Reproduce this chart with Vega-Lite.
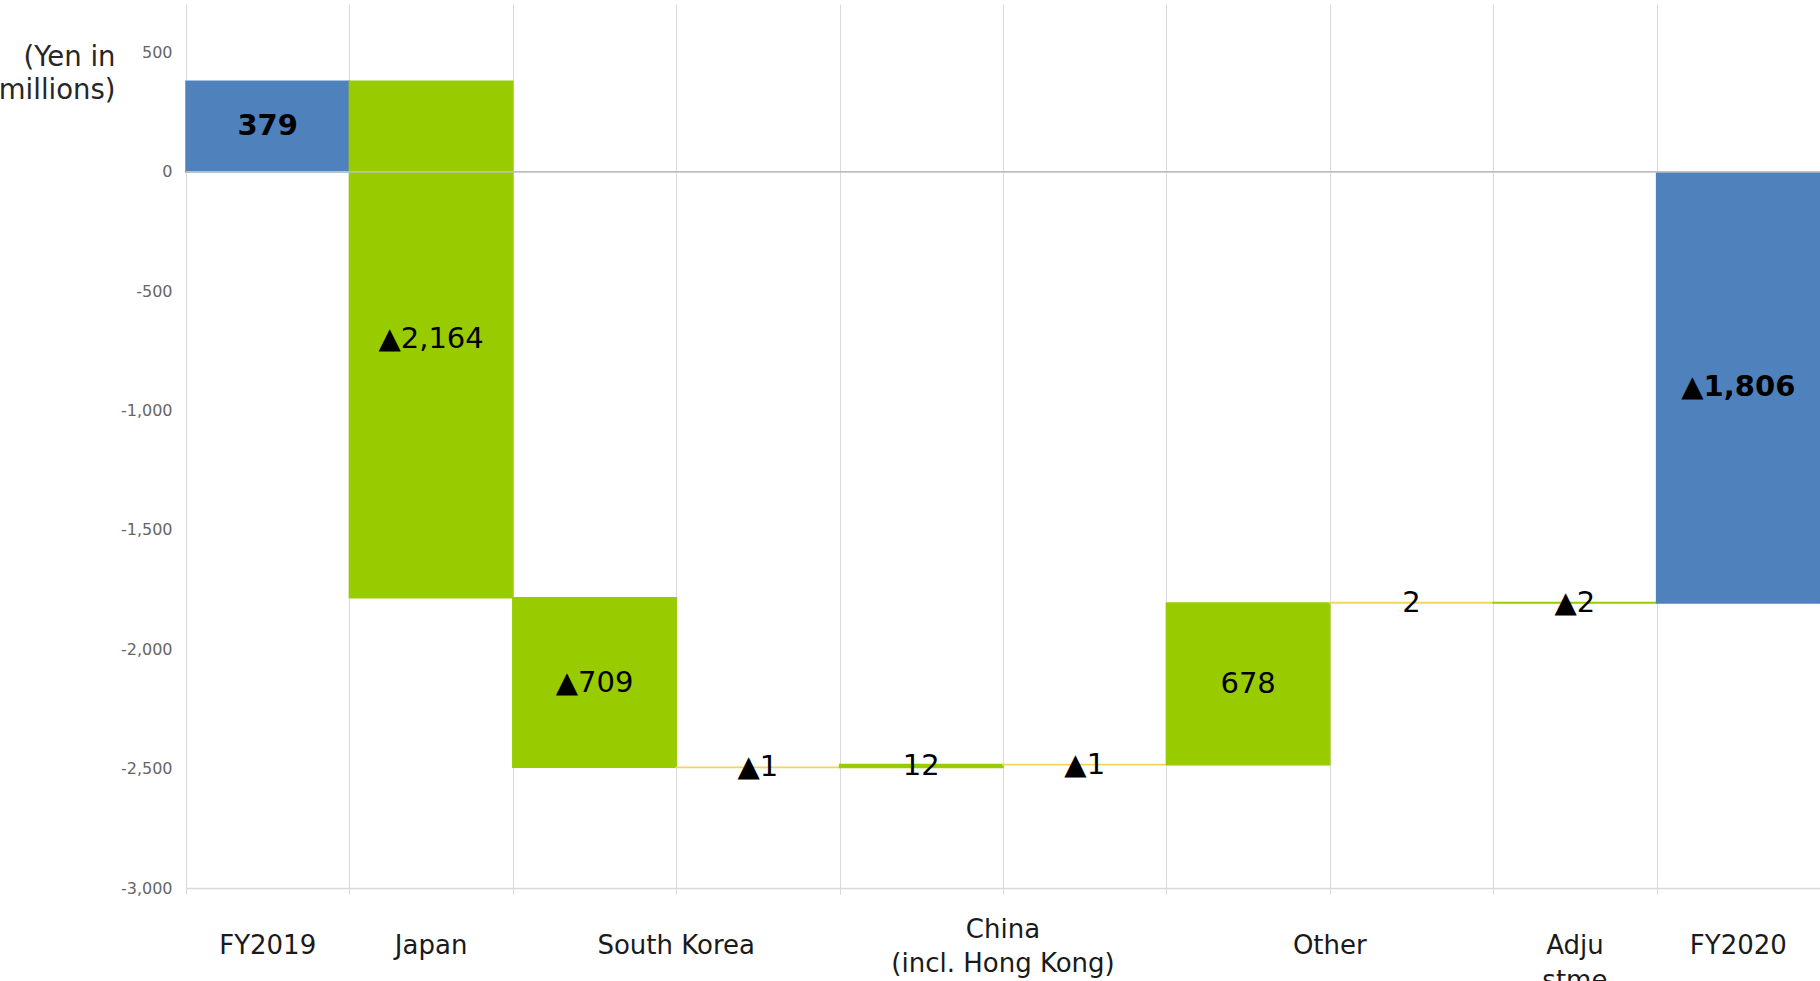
{
  "$schema": "https://vega.github.io/schema/vega-lite/v6.json",
  "autosize": "none",
  "width": 1634,
  "height": 884,
  "padding": {"left": 186, "top": 4, "right": 0, "bottom": 93},
  "background": "white",
  "config": {
    "view": {"stroke": null},
    "font": "DejaVu Sans",
    "style": {"guide-title": {"lineBreak": "\n"}}
  },
  "datasets": {
    "steps": [
      {"i": 0, "item": "FY2019", "start": 0, "end": 379, "kind": "total", "label": "379"},
      {"i": 1, "item": "Japan", "start": 379, "end": -1785, "kind": "main", "label": "▲2,164"},
      {"i": 2, "item": "South Korea (1)", "start": -1785, "end": -2494, "kind": "main", "label": "▲709"},
      {"i": 3, "item": "South Korea (2)", "start": -2494, "end": -2495, "kind": "sub", "label": "▲1"},
      {"i": 4, "item": "China (1)", "start": -2495, "end": -2483, "kind": "main", "label": "12"},
      {"i": 5, "item": "China (2)", "start": -2483, "end": -2484, "kind": "sub", "label": "▲1"},
      {"i": 6, "item": "Other (1)", "start": -2484, "end": -1806, "kind": "main", "label": "678"},
      {"i": 7, "item": "Other (2)", "start": -1806, "end": -1804, "kind": "sub", "label": "2"},
      {"i": 8, "item": "Adjustment", "start": -1804, "end": -1806, "kind": "main", "label": "▲2"},
      {"i": 9, "item": "FY2020", "start": 0, "end": -1806, "kind": "total", "label": "▲1,806"}
    ],
    "cats": [
      {"pos": 0.5, "name": "FY2019", "lines": 1},
      {"pos": 1.5, "name": "Japan", "lines": 1},
      {"pos": 3, "name": "South Korea", "lines": 1},
      {"pos": 5, "name": "China\n(incl. Hong Kong)", "lines": 2},
      {"pos": 7, "name": "Other", "lines": 1},
      {"pos": 8.5, "name": "Adju\nstme\nnt", "lines": 3},
      {"pos": 9.5, "name": "FY2020", "lines": 1}
    ]
  },
  "layer": [
    {
      "data": {"name": "steps"},
      "transform": [{"calculate": "datum.i + 1", "as": "i1"}],
      "mark": {"type": "bar", "strokeWidth": 1.5},
      "encoding": {
        "x": {
          "field": "i", "type": "quantitative",
          "scale": {"domain": [0, 10], "nice": false, "zero": false},
          "axis": {
            "title": null,
            "values": [0, 1, 2, 3, 4, 5, 6, 7, 8, 9, 10],
            "grid": true,
            "gridColor": "#D9D9D9",
            "gridWidth": 1,
            "ticks": true,
            "tickColor": "#D9D9D9",
            "tickSize": 6,
            "domain": true,
            "domainColor": "#D9D9D9",
            "domainWidth": 1.5,
            "labels": false
          }
        },
        "x2": {"field": "i1"},
        "y": {
          "field": "start", "type": "quantitative",
          "scale": {"domain": [-3000, 702], "nice": false, "zero": false},
          "axis": {
            "values": [-3000, -2500, -2000, -1500, -1000, -500, 0, 500],
            "format": ",d",
            "labelExpr": "replace(datum.label, '\u2212', '-')",
            "grid": false,
            "domain": false,
            "ticks": false,
            "labelPadding": 14,
            "labelFont": "DejaVu Sans",
            "labelFontSize": 16,
            "labelColor": "#666666",
            "title": "(Yen in\nmillions)",
            "titleAngle": 0,
            "titleAlign": "right",
            "titleBaseline": "top",
            "titleX": -71,
            "titleY": 39,
            "titleFont": "DejaVu Sans",
            "titleFontSize": 27.5,
            "titleFontWeight": "normal",
            "titleColor": "#262626",
            "titleLineHeight": 33
          }
        },
        "y2": {"field": "end"},
        "fill": {
          "field": "kind", "type": "nominal", "legend": null,
          "scale": {"domain": ["total", "main", "sub"], "range": ["#4F81BD", "#99CC00", "#F5D45A"]}
        },
        "stroke": {
          "field": "kind", "type": "nominal", "legend": null,
          "scale": {"domain": ["total", "main", "sub"], "range": ["#4F81BD", "#99CC00", "#F5D45A"]}
        }
      }
    },
    {
      "data": {"name": "steps"},
      "mark": {"type": "rule", "color": "#BFBFBF", "strokeWidth": 1},
      "encoding": {"y": {"datum": 0, "type": "quantitative"}}
    },
    {
      "data": {"name": "steps"},
      "transform": [
        {"filter": "datum.kind !== 'total'"},
        {"calculate": "datum.i + 0.5", "as": "ci"},
        {"calculate": "(datum.start + datum.end) / 2", "as": "mid"}
      ],
      "mark": {"type": "text", "font": "DejaVu Sans", "fontSize": 29, "color": "#000000", "align": "center", "baseline": "middle"},
      "encoding": {
        "x": {"field": "ci", "type": "quantitative"},
        "y": {"field": "mid", "type": "quantitative"},
        "text": {"field": "label"}
      }
    },
    {
      "data": {"name": "steps"},
      "transform": [
        {"filter": "datum.kind === 'total'"},
        {"calculate": "datum.i + 0.5", "as": "ci"},
        {"calculate": "(datum.start + datum.end) / 2", "as": "mid"}
      ],
      "mark": {"type": "text", "font": "DejaVu Sans", "fontSize": 29, "fontWeight": "bold", "color": "#000000", "align": "center", "baseline": "middle"},
      "encoding": {
        "x": {"field": "ci", "type": "quantitative"},
        "y": {"field": "mid", "type": "quantitative"},
        "text": {"field": "label"}
      }
    },
    {
      "data": {"name": "cats"},
      "transform": [{"filter": "datum.lines === 1"}],
      "mark": {"type": "text", "font": "DejaVu Sans", "fontSize": 26, "color": "#1A1A1A", "align": "center", "baseline": "middle", "dy": 58, "clip": false},
      "encoding": {
        "x": {"field": "pos", "type": "quantitative"},
        "y": {"datum": -3000, "type": "quantitative"},
        "text": {"field": "name"}
      }
    },
    {
      "data": {"name": "cats"},
      "transform": [{"filter": "datum.lines === 2"}],
      "mark": {"type": "text", "font": "DejaVu Sans", "fontSize": 26, "color": "#1A1A1A", "align": "center", "baseline": "middle", "lineBreak": "\n", "lineHeight": 34, "dy": 42, "clip": false},
      "encoding": {
        "x": {"field": "pos", "type": "quantitative"},
        "y": {"datum": -3000, "type": "quantitative"},
        "text": {"field": "name"}
      }
    },
    {
      "data": {"name": "cats"},
      "transform": [{"filter": "datum.lines === 3"}],
      "mark": {"type": "text", "font": "DejaVu Sans", "fontSize": 26, "color": "#1A1A1A", "align": "center", "baseline": "middle", "lineBreak": "\n", "lineHeight": 35, "dy": 58, "clip": false},
      "encoding": {
        "x": {"field": "pos", "type": "quantitative"},
        "y": {"datum": -3000, "type": "quantitative"},
        "text": {"field": "name"}
      }
    }
  ]
}
